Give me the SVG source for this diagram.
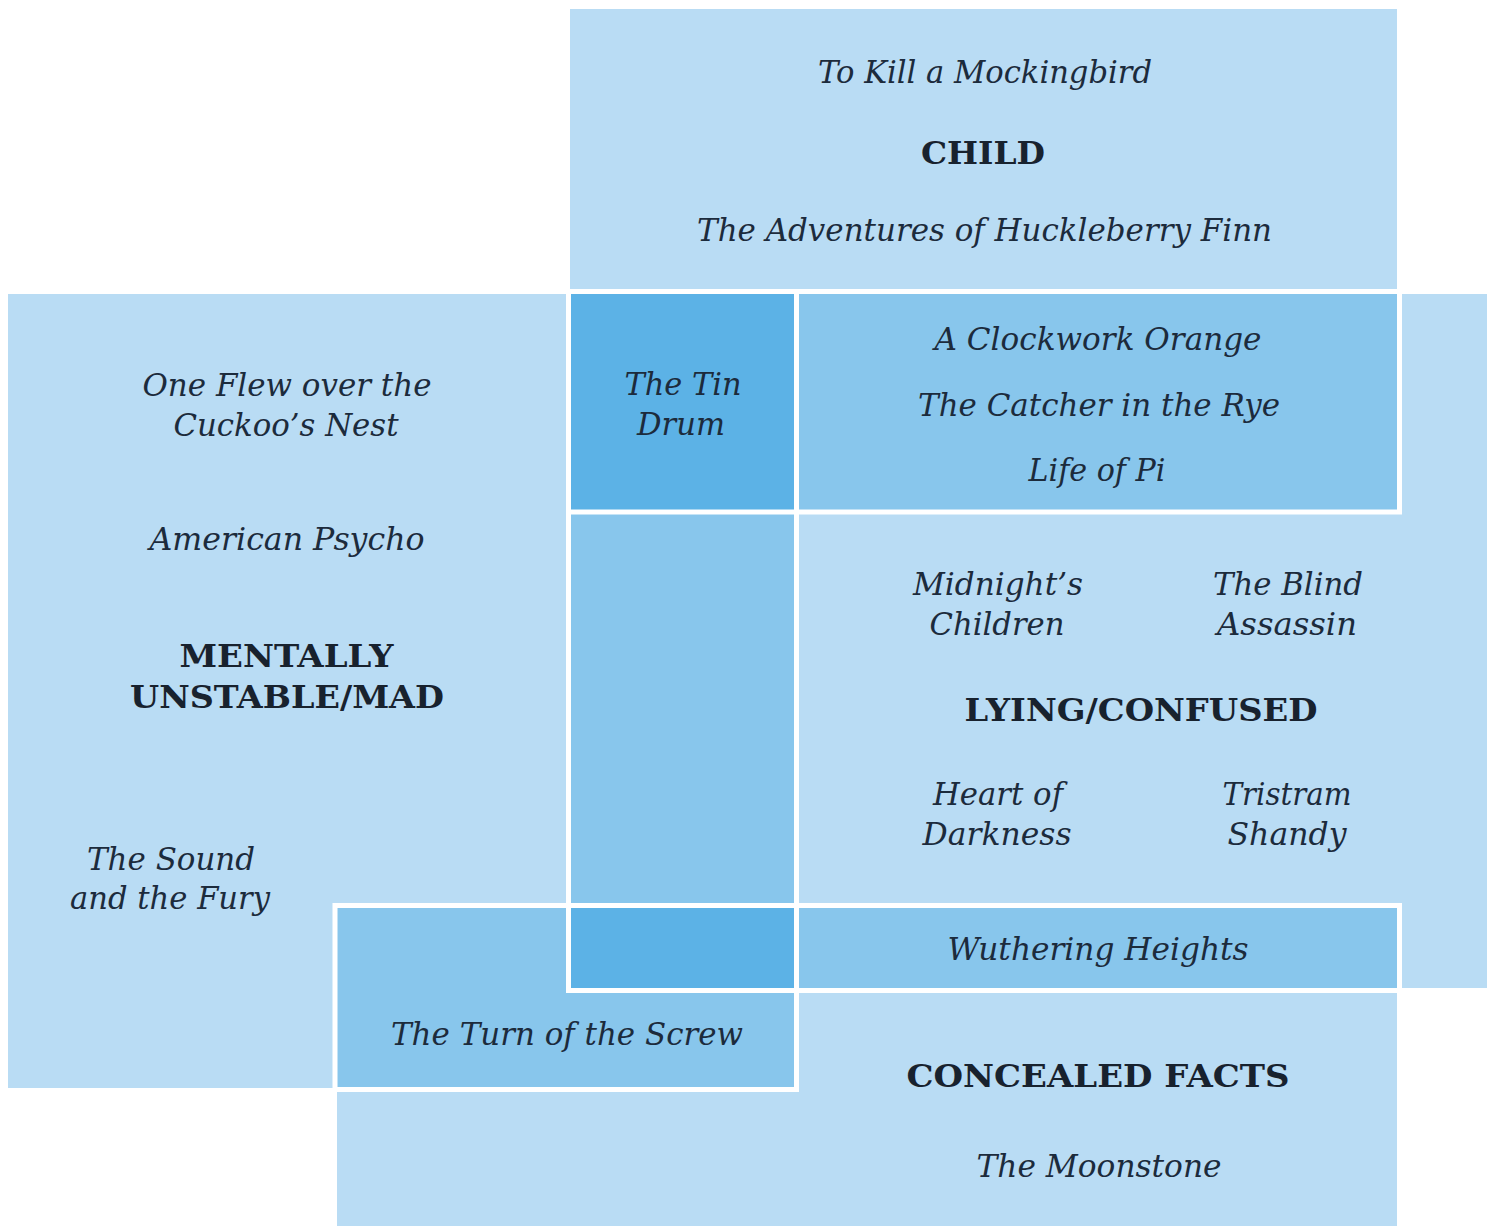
<svg xmlns="http://www.w3.org/2000/svg" width="1494" height="1226" viewBox="0 0 1494 1226">
<style>
.light{fill:#b9dcf4}
.med{fill:#88c6ec;stroke:#ffffff;stroke-width:5}
.dark{fill:#5cb2e6;stroke:#ffffff;stroke-width:5}
.t{font-family:"DejaVu Serif","Liberation Serif",serif;font-style:italic;font-size:32px;fill:#1c2b3c;text-anchor:middle}
.h{font-family:"DejaVu Serif","Liberation Serif",serif;font-weight:bold;font-size:31px;fill:#18222e;text-anchor:middle}
</style>
<rect width="1494" height="1226" fill="#ffffff"/>
<g id="sets">
<rect id="set-child" class="light" x="570" y="9" width="827" height="503"/>
<rect id="set-mad" class="light" x="8" y="294" width="790" height="794"/>
<rect id="set-lying" class="light" x="570" y="294" width="917" height="694"/>
<rect id="set-concealed" class="light" x="337" y="906" width="1060" height="320"/>
</g>
<g id="overlaps">
<rect id="child-lying" class="med" x="568.5" y="291.5" width="831" height="220.5"/>
<rect id="lying-concealed" class="med" x="568.5" y="905.5" width="831" height="85"/>
<rect id="mad-concealed" class="med" x="335" y="905.5" width="461.5" height="184"/>
<rect id="mad-lying" class="med" x="568.5" y="291.5" width="228" height="699"/>
<rect id="child-mad-lying" class="dark" x="568.5" y="291.5" width="228" height="220.5"/>
<rect id="mad-lying-concealed" class="dark" x="568.5" y="905.5" width="228" height="85"/>
</g>
<g id="connectors"></g>
<g id="node-child">
<text class="t" x="985" y="83" textLength="334" lengthAdjust="spacingAndGlyphs">To Kill a Mockingbird</text>
<text class="h" x="983" y="164" textLength="124" lengthAdjust="spacingAndGlyphs">CHILD</text>
<text class="t" x="984.5" y="241" textLength="575" lengthAdjust="spacingAndGlyphs">The Adventures of Huckleberry Finn</text>
</g>
<g id="node-mad">
<text class="t" x="287" y="396" textLength="289" lengthAdjust="spacingAndGlyphs">One Flew over the</text>
<text class="t" x="286" y="436" textLength="225" lengthAdjust="spacingAndGlyphs">Cuckoo’s Nest</text>
<text class="t" x="287" y="550" textLength="275" lengthAdjust="spacingAndGlyphs">American Psycho</text>
<text class="h" x="286.5" y="667" textLength="214" lengthAdjust="spacingAndGlyphs">MENTALLY</text>
<text class="h" x="287" y="708" textLength="314" lengthAdjust="spacingAndGlyphs">UNSTABLE/MAD</text>
<text class="t" x="171" y="870" textLength="168" lengthAdjust="spacingAndGlyphs">The Sound</text>
<text class="t" x="170" y="909" textLength="200" lengthAdjust="spacingAndGlyphs">and the Fury</text>
</g>
<g id="node-tin-drum">
<text class="t" x="683" y="395" textLength="117" lengthAdjust="spacingAndGlyphs">The Tin</text>
<text class="t" x="681" y="435" textLength="88" lengthAdjust="spacingAndGlyphs">Drum</text>
</g>
<g id="node-child-lying">
<text class="t" x="1098" y="350" textLength="327" lengthAdjust="spacingAndGlyphs">A Clockwork Orange</text>
<text class="t" x="1099" y="416" textLength="362" lengthAdjust="spacingAndGlyphs">The Catcher in the Rye</text>
<text class="t" x="1097" y="481" textLength="137" lengthAdjust="spacingAndGlyphs">Life of Pi</text>
</g>
<g id="node-lying">
<text class="t" x="998" y="595" textLength="170" lengthAdjust="spacingAndGlyphs">Midnight’s</text>
<text class="t" x="997" y="635" textLength="135" lengthAdjust="spacingAndGlyphs">Children</text>
<text class="t" x="1288" y="595" textLength="150" lengthAdjust="spacingAndGlyphs">The Blind</text>
<text class="t" x="1287" y="635" textLength="140" lengthAdjust="spacingAndGlyphs">Assassin</text>
<text class="h" x="1141" y="721" textLength="353" lengthAdjust="spacingAndGlyphs">LYING/CONFUSED</text>
<text class="t" x="998" y="805" textLength="130" lengthAdjust="spacingAndGlyphs">Heart of</text>
<text class="t" x="997" y="845" textLength="149" lengthAdjust="spacingAndGlyphs">Darkness</text>
<text class="t" x="1287" y="805" textLength="129" lengthAdjust="spacingAndGlyphs">Tristram</text>
<text class="t" x="1287" y="845" textLength="119" lengthAdjust="spacingAndGlyphs">Shandy</text>
</g>
<g id="node-lying-concealed">
<text class="t" x="1098" y="960" textLength="301" lengthAdjust="spacingAndGlyphs">Wuthering Heights</text>
</g>
<g id="node-mad-concealed">
<text class="t" x="567" y="1045" textLength="352" lengthAdjust="spacingAndGlyphs">The Turn of the Screw</text>
</g>
<g id="node-concealed">
<text class="h" x="1098" y="1087" textLength="383" lengthAdjust="spacingAndGlyphs">CONCEALED FACTS</text>
<text class="t" x="1099" y="1177" textLength="245" lengthAdjust="spacingAndGlyphs">The Moonstone</text>
</g>
</svg>
